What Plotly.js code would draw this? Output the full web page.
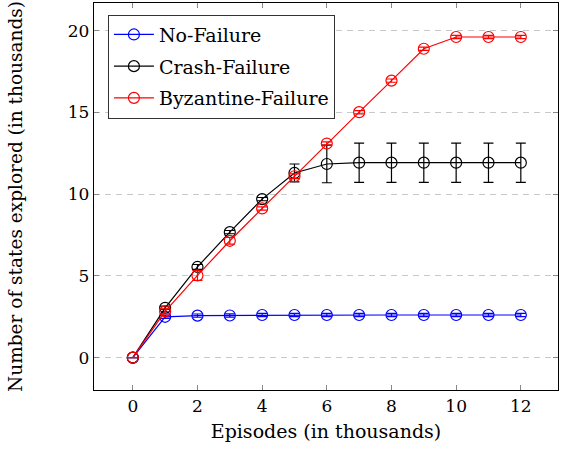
<!DOCTYPE html>
<html>
<head>
<meta charset="utf-8">
<script src="https://cdn.plot.ly/plotly-3.0.1.min.js"></script>
<style>
  body { margin: 0; padding: 0; background: white; }
  #myGraph { width: 562px; height: 458px; }
</style>
</head>
<body>
<div id="myGraph"></div>
<script>
// episodes, in thousands
let episodes = [0, 1, 2, 3, 4, 5, 6, 7, 8, 9, 10, 11, 12];

let noFailure    = [0, 2.5, 2.57, 2.58, 2.61, 2.61, 2.61, 2.61, 2.61, 2.61, 2.61, 2.61, 2.61];
let noFailureErr = [0, 0.1, 0.1, 0.1, 0.1, 0.1, 0.1, 0.1, 0.1, 0.1, 0.1, 0.1, 0.1];

let crashFailure    = [0, 3.05, 5.55, 7.68, 9.7, 11.3, 11.85, 11.93, 11.93, 11.93, 11.93, 11.93, 11.93];
let crashFailureErr = [0, 0.1, 0.15, 0.1, 0.1, 0.55, 1.15, 1.2, 1.2, 1.2, 1.2, 1.2, 1.2];

let byzFailure    = [0, 2.83, 5.03, 7.15, 9.13, 11.1, 13.1, 15.02, 16.95, 18.9, 19.62, 19.62, 19.62];
let byzFailureErr = [0, 0.15, 0.3, 0.2, 0.1, 0.15, 0.1, 0.1, 0.1, 0.1, 0.1, 0.1, 0.1];

let font = 'DejaVu Serif';

function makeTrace(name, y, err, color) {
    return {
        type: 'scatter',
        mode: 'lines+markers',
        name: name,
        legendgroup: name,
        x: episodes,
        y: y,
        line: { color: color, width: 1.2 },
        marker: {
            symbol: 'circle-open',
            size: 11,
            color: color,
            line: { color: color, width: 1.2 }
        },
        error_y: {
            type: 'data',
            array: err,
            visible: true,
            color: color,
            thickness: 1.2,
            width: 5
        }
    };
}

let data = [
    makeTrace('No-Failure', noFailure, noFailureErr, 'blue'),
    makeTrace('Crash-Failure', crashFailure, crashFailureErr, 'black'),
    makeTrace('Byzantine-Failure', byzFailure, byzFailureErr, 'red')
];

let layout = {
    width: 562,
    height: 458,
    margin: { l: 94, r: 4, t: 3, b: 68 },
    paper_bgcolor: 'white',
    plot_bgcolor: 'white',
    font: { family: font, size: 17, color: 'black' },
    showlegend: true,
    legend: {
        x: 0.03,
        y: 0.97,
        xanchor: 'left',
        yanchor: 'top',
        bordercolor: '#333',
        borderwidth: 1,
        bgcolor: 'white',
        font: { family: font, size: 19 },
        tracegroupgap: 4,
        itemwidth: 40
    },
    xaxis: {
        range: [-1.2, 13.15],
        tickvals: [0, 2, 4, 6, 8, 10, 12],
        ticks: 'inside',
        ticklen: 5,
        tickcolor: '#888',
        showgrid: false,
        zeroline: false,
        showline: true,
        linecolor: 'black',
        linewidth: 1.2,
        mirror: 'ticks',
        tickfont: { family: font, size: 17 },
        title: { text: 'Episodes (in thousands)', font: { family: font, size: 19 }, standoff: 10 }
    },
    yaxis: {
        range: [-1.98, 21.7],
        tickvals: [0, 5, 10, 15, 20],
        ticks: 'inside',
        ticklen: 5,
        tickcolor: '#888',
        showgrid: true,
        gridcolor: '#c8c8c8',
        griddash: '6px,5px',
        gridwidth: 1,
        zeroline: false,
        showline: true,
        linecolor: 'black',
        linewidth: 1.2,
        mirror: 'ticks',
        tickfont: { family: font, size: 17 },
        title: { text: 'Number of states explored (in thousands)', font: { family: font, size: 18.5 }, standoff: 40 }
    }
};

Plotly.newPlot('myGraph', data, layout, { displayModeBar: false, staticPlot: true });
</script>
</body>
</html>
